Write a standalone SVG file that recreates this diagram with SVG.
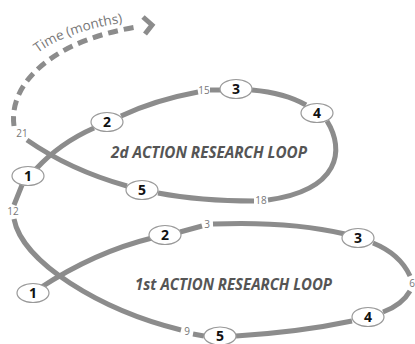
<svg xmlns="http://www.w3.org/2000/svg" width="415" height="344" viewBox="0 0 415 344">
<defs>
<style>
.p{fill:none;stroke:#8c8c8c;stroke-width:5}
.d{fill:none;stroke:#8c8c8c;stroke-width:5;stroke-dasharray:10 6}
.n ellipse{fill:#fff;stroke:#999;stroke-width:1.2}
.n text{font-family:"Open Sans","Liberation Sans",sans-serif;font-weight:bold;font-size:14px;fill:#111;text-anchor:middle}
.t{font-family:"Open Sans","Liberation Sans",sans-serif;font-size:10px;fill:#777;text-anchor:middle}
.lbl{font-family:"Open Sans","Liberation Sans",sans-serif;font-weight:bold;font-style:italic;font-size:16px;fill:#555}
</style>
<path id="tp" d="M 38 53 C 56 39, 86 28, 127 22"/>
</defs>
<rect width="415" height="344" fill="#fff"/>
<g id="connectors">
<path class="p" d="M 40 288 Q 95 252 152 238"/>
<path class="p" d="M 180 232 L 202 226"/>
<path class="p" d="M 213 224 Q 290 221 345 234"/>
<path class="p" d="M 373 243 Q 400 254 410 276"/>
<path class="p" d="M 410 291 Q 402 305 383 312"/>
<path class="p" d="M 352 321 Q 300 332 236 336"/>
<path class="p" d="M 204 336 L 193 334"/>
<path class="p" d="M 181 330 C 100 310, 22 262, 14 219"/>
<path class="p" d="M 14 205 L 22 185"/>
<path class="p" d="M 36 169 Q 60 143 94 128"/>
<path class="p" d="M 121 116 Q 155 100 198 92"/>
<path class="p" d="M 210 90 L 221 90"/>
<path class="p" d="M 252 90 Q 285 93 306 105"/>
<path class="p" d="M 327 121 C 345 150, 340 190, 268 200"/>
<path class="p" d="M 254 201 Q 200 201 158 193"/>
<path class="p" d="M 127 186 Q 70 170 27 140"/>
<path class="d" d="M 14 126 C 8 82, 55 40, 137 27"/>
<polyline points="143,17 152,25 145,34" fill="none" stroke="#8c8c8c" stroke-width="5"/>
</g>
<g id="numbers">
<text class="t" x="22" y="137">21</text>
<text class="t" x="13" y="215">12</text>
<text class="t" x="204" y="94">15</text>
<text class="t" x="261" y="204">18</text>
<text class="t" x="207" y="228">3</text>
<text class="t" x="412" y="287">6</text>
<text class="t" x="187" y="335">9</text>
</g>
<text id="time" font-family="'Open Sans','Liberation Sans',sans-serif" font-size="13.5" fill="#777"><textPath href="#tp">Time (months)</textPath></text>
<g id="u1" class="n"><ellipse cx="28" cy="176" rx="16" ry="9.5"/><text x="28" y="181">1</text></g>
<g id="u2" class="n"><ellipse cx="107" cy="122" rx="16" ry="9.5"/><text x="107" y="127">2</text></g>
<g id="u3" class="n"><ellipse cx="236" cy="89" rx="16" ry="9.5"/><text x="236" y="94">3</text></g>
<g id="u4" class="n"><ellipse cx="317" cy="113" rx="16" ry="9.5"/><text x="317" y="118">4</text></g>
<g id="u5" class="n"><ellipse cx="142" cy="190" rx="16" ry="9.5"/><text x="142" y="195">5</text></g>
<g id="l1" class="n"><ellipse cx="33" cy="293" rx="16" ry="9.5"/><text x="33" y="298">1</text></g>
<g id="l2" class="n"><ellipse cx="165" cy="235" rx="16" ry="9.5"/><text x="165" y="240">2</text></g>
<g id="l3" class="n"><ellipse cx="358" cy="238" rx="16" ry="9.5"/><text x="358" y="243">3</text></g>
<g id="l4" class="n"><ellipse cx="368" cy="317" rx="16" ry="9.5"/><text x="368" y="322">4</text></g>
<g id="l5" class="n"><ellipse cx="220" cy="336" rx="16" ry="9"/><text x="220" y="341">5</text></g>
<text class="lbl" x="111" y="158" textLength="196" lengthAdjust="spacingAndGlyphs">2d  ACTION RESEARCH LOOP</text>
<text class="lbl" x="135" y="290" textLength="197" lengthAdjust="spacingAndGlyphs">1st  ACTION RESEARCH LOOP</text>
</svg>
